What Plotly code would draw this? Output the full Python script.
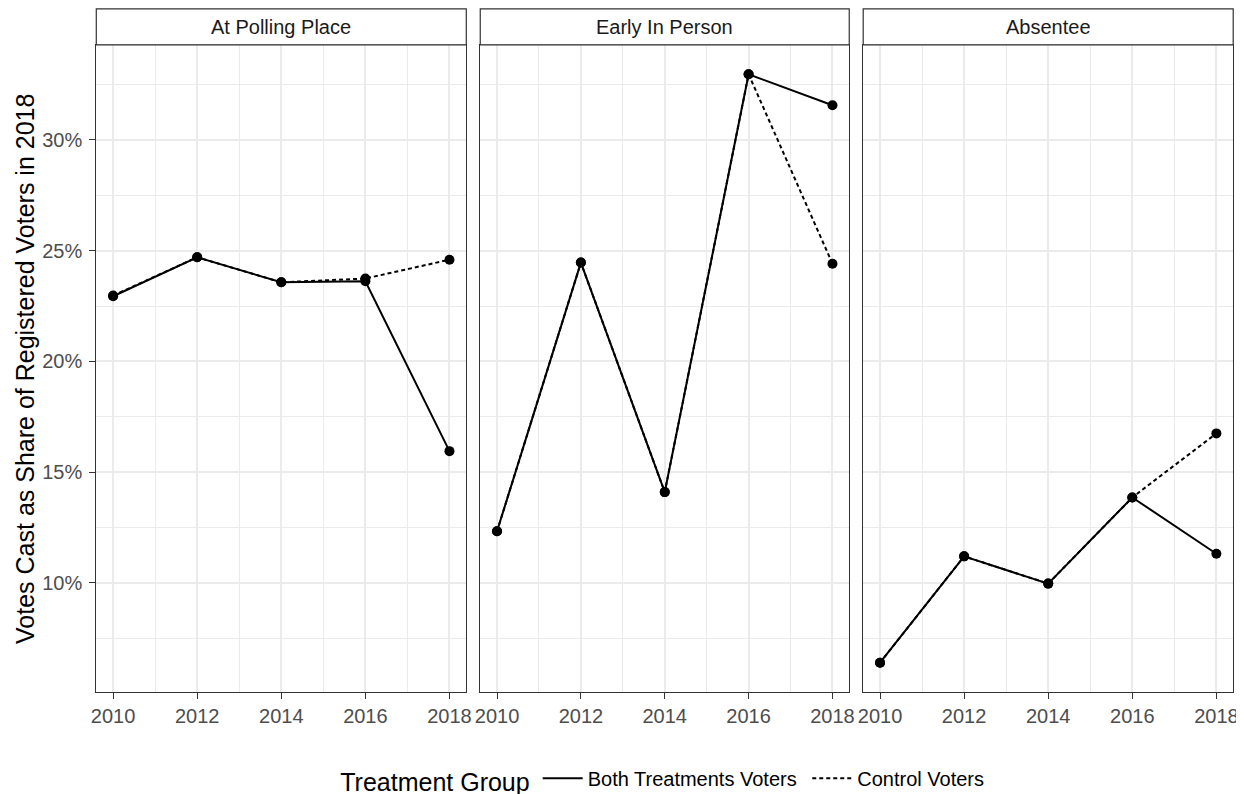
import plotly.graph_objects as go

years = [2010, 2012, 2014, 2016, 2018]
panels = ["At Polling Place", "Early In Person", "Absentee"]
both_polling = [0.2294, 0.2470, 0.2357, 0.2362, 0.1595]
control_polling = [0.2297, 0.2470, 0.2357, 0.2374, 0.2459]
both_early = [0.1233, 0.2446, 0.1410, 0.3296, 0.3156]
control_early = [0.1233, 0.2446, 0.1410, 0.3296, 0.2441]
both_absentee = [0.0640, 0.1120, 0.0997, 0.1386, 0.1132]
control_absentee = [0.0640, 0.1120, 0.0997, 0.1386, 0.1675]
group_names = ["Both Treatments Voters", "Control Voters"]
y_tick_vals = [0.10, 0.15, 0.20, 0.25, 0.30]
y_tick_text = ["10%", "15%", "20%", "25%", "30%"]
x_tick_vals = [2010, 2012, 2014, 2016, 2018]

both_series = [both_polling, both_early, both_absentee]
control_series = [control_polling, control_early, control_absentee]

W, H = 1244, 794
OFF = 8  # default page margin of the html body


def fx(x):
    # target horizontal position -> figure pixel
    return 91.96 + (x - 96) * 1.00538 - OFF


def fy(y):
    # target vertical position -> figure pixel
    return max((y - 1.3) / 0.9906 - OFF, 0.8)


FONT = "Liberation Sans, Arial, sans-serif"
px_x = [(fx(96), fx(467)), (fx(481), fx(851)), (fx(865), fx(1236))]
panel_top, panel_bottom = fy(46), fy(693)
strip_top = fy(8)
SMALL = 20
LARGE = 25
NB = "\u00a0"

fig = go.Figure()

for i in range(3):
    xa = "x" if i == 0 else f"x{i+1}"
    ya = "y" if i == 0 else f"y{i+1}"
    fig.add_trace(go.Scatter(
        x=years, y=control_series[i], mode="lines", xaxis=xa, yaxis=ya,
        line=dict(color="black", width=2, dash="4px,3px"),
        name=group_names[1], legendgroup="c", showlegend=(i == 0), legendrank=2,
        hoverinfo="skip"))
    fig.add_trace(go.Scatter(
        x=years, y=both_series[i], mode="lines", xaxis=xa, yaxis=ya,
        line=dict(color="black", width=2),
        name=group_names[0] + NB, legendgroup="b", showlegend=(i == 0), legendrank=1,
        hoverinfo="skip"))
    fig.add_trace(go.Scatter(
        x=years, y=control_series[i], mode="markers", xaxis=xa, yaxis=ya,
        marker=dict(color="black", size=10), showlegend=False, hoverinfo="skip"))
    fig.add_trace(go.Scatter(
        x=years, y=both_series[i], mode="markers", xaxis=xa, yaxis=ya,
        marker=dict(color="black", size=10), showlegend=False, hoverinfo="skip"))

y_dom = [1 - panel_bottom / H, 1 - panel_top / H]
layout = dict(
    width=W, height=H,
    margin=dict(l=0, r=0, t=0, b=0),
    paper_bgcolor="white", plot_bgcolor="white",
    font=dict(family=FONT, color="#000000"),
    showlegend=True,
    legend=dict(orientation="h", x=fx(665) / W, xanchor="center", y=1 - fy(781) / H, yanchor="middle",
                title=dict(text="Treatment Group", side="left", font=dict(size=LARGE, family=FONT, color="black")),
                font=dict(size=SMALL, family=FONT, color="black"), itemwidth=40,
                bgcolor="rgba(0,0,0,0)"),
    shapes=[], annotations=[],
)

for i in range(3):
    sfx = "" if i == 0 else str(i + 1)
    x0, x1 = px_x[i]
    layout["xaxis" + sfx] = dict(
        domain=[x0 / W, x1 / W], anchor="y" + sfx, range=[2009.6, 2018.4],
        tickmode="array", tickvals=x_tick_vals, ticktext=[str(v) for v in x_tick_vals],
        ticks="outside", ticklen=6, tickwidth=1.2, tickcolor="#333333",
        tickfont=dict(size=SMALL, family=FONT, color="#4D4D4D"),
        showgrid=True, gridcolor="#EBEBEB", gridwidth=1.5,
        minor=dict(dtick=1, tick0=2010, showgrid=True, gridcolor="#EBEBEB", gridwidth=0.8, ticks=""),
        showline=True, linecolor="#333333", linewidth=1.2, mirror=True, zeroline=False,
        fixedrange=True)
    layout["yaxis" + sfx] = dict(
        domain=y_dom, anchor="x" + sfx, range=[0.0507, 0.3429],
        tickmode="array", tickvals=y_tick_vals, ticktext=y_tick_text,
        ticks="outside" if i == 0 else "", ticklen=6, tickwidth=1.2, tickcolor="#333333",
        showticklabels=(i == 0), ticklabelstandoff=3,
        tickfont=dict(size=SMALL, family=FONT, color="#4D4D4D"),
        showgrid=True, gridcolor="#EBEBEB", gridwidth=1.5,
        minor=dict(tickvals=[0.075, 0.125, 0.175, 0.225, 0.275, 0.325], showgrid=True,
                   gridcolor="#EBEBEB", gridwidth=0.8, ticks=""),
        showline=True, linecolor="#333333", linewidth=1.2, mirror=True, zeroline=False,
        fixedrange=True)
    layout["shapes"].append(dict(
        type="rect", xref="paper", yref="paper",
        x0=x0 / W, x1=x1 / W, y0=1 - panel_top / H, y1=1 - strip_top / H,
        line=dict(color="#333333", width=1.2), fillcolor="white", layer="above"))
    layout["annotations"].append(dict(
        text=panels[i], xref="paper", yref="paper",
        x=(x0 + x1) / 2 / W, y=1 - (panel_top + strip_top) / 2 / H,
        xanchor="center", yanchor="middle", showarrow=False,
        font=dict(size=SMALL, family=FONT, color="#1A1A1A")))

layout["annotations"].append(dict(
    text="Votes Cast as Share of Registered Voters in 2018", xref="paper", yref="paper",
    x=fx(25) / W, y=1 - (panel_top + panel_bottom) / 2 / H, textangle=-90,
    xanchor="center", yanchor="middle", showarrow=False,
    font=dict(size=LARGE, family=FONT, color="black")))

fig.update_layout(**layout)
fig.write_html("out.html", config={"displayModeBar": False})
